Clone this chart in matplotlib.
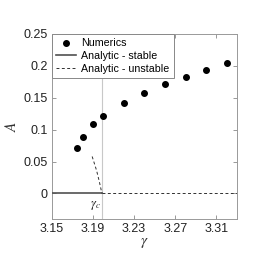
import matplotlib
matplotlib.use("Agg")
import matplotlib.pyplot as plt

plt.rcParams['font.family'] = ['Liberation Sans', 'DejaVu Sans']
plt.rcParams['mathtext.fontset'] = 'stix'

# Numerics
gamma_num = [3.175, 3.18, 3.19, 3.20, 3.22, 3.24, 3.26, 3.28, 3.30, 3.32]
A_num = [0.071, 0.089, 0.1085, 0.1215, 0.1425, 0.1577, 0.171, 0.183, 0.194, 0.204]

gamma_c = 3.1988
# Analytic stable branch (A = 0 below gamma_c)
gamma_stable = [3.15, gamma_c]
A_stable = [0.0, 0.0]
# Analytic unstable branches
gamma_unst_curve = [3.1893, 3.1936, 3.1962, gamma_c]
A_unst_curve = [0.058, 0.036, 0.019, 0.0]
gamma_unst_flat = [gamma_c, 3.33]
A_unst_flat = [0.0, 0.0]

xticks = [3.15, 3.19, 3.23, 3.27, 3.31]
xticklabels = ['3.15', '3.19', '3.23', '3.27', '3.31']
yticks = [0, 0.05, 0.1, 0.15, 0.2, 0.25]
yticklabels = ['0', '0.05', '0.1', '0.15', '0.2', '0.25']

fig = plt.figure(figsize=(2.74, 2.74), dpi=100)
ax = fig.add_axes([0.1887, 0.2007, 0.865 - 0.1887, 0.876 - 0.2007])

ax.axvline(gamma_c, color='#c8c8c8', lw=0.8, zorder=1)
h_num, = ax.plot(gamma_num, A_num, 'o', color='black', markersize=4.0, ls='none',
                 label='Numerics', zorder=4)
h_st, = ax.plot(gamma_stable, A_stable, '-', color='#505050', lw=1.2,
                label='Analytic - stable', zorder=3)
h_un, = ax.plot(gamma_unst_flat, A_unst_flat, color='#303030', lw=0.7,
                dashes=(3, 2.5), label='Analytic - unstable', zorder=3)
ax.plot(gamma_unst_curve, A_unst_curve, color='#303030', lw=0.7, dashes=(3, 2.5), zorder=3)

ax.text(gamma_c - 0.0015, -0.019, r'$\gamma_c$', ha='right', va='center', fontsize=9,
        color='#222222')

ax.set_xlim(3.15, 3.33)
ax.set_ylim(-0.04, 0.25)
ax.set_xticks(xticks)
ax.set_xticklabels(xticklabels)
ax.set_yticks(yticks)
ax.set_yticklabels(yticklabels)
ax.tick_params(direction='in', length=3, width=0.6, colors='#888888', labelcolor='#222222',
               labelsize=9, top=True, right=True, pad=3)
for s in ax.spines.values():
    s.set_color('#999999')
    s.set_linewidth(0.7)

ax.set_xlabel(r'$\gamma$', fontsize=11, color='#333333', labelpad=0.5)
ax.set_ylabel(r'$A$', fontsize=11, color='#333333', labelpad=3)

leg = ax.legend(handles=[h_num, h_st, h_un], loc='upper left', bbox_to_anchor=(0, 1),
                borderaxespad=0, fontsize=7.7, frameon=True, fancybox=False,
                framealpha=1, edgecolor='#888888', handlelength=1.9, handletextpad=0.45,
                labelspacing=0.25, borderpad=0.4)
leg.get_frame().set_linewidth(0.7)

fig.savefig('out.png', dpi=100)
